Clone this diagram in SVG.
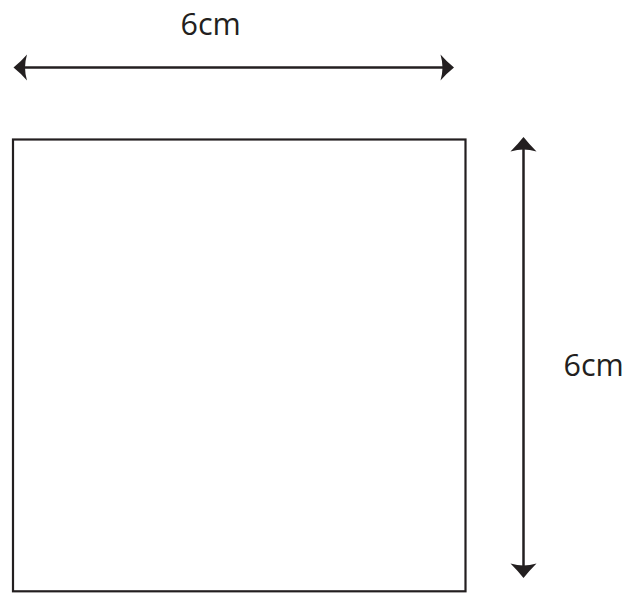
<svg xmlns="http://www.w3.org/2000/svg" width="625" height="593" viewBox="0 0 625 593">
<style>
.line{stroke:#231f20;stroke-width:2.5;fill:none}
.head{fill:#231f20;stroke:none}
.lbl{font-family:"Open Sans","Noto Sans",sans-serif;font-size:30.5px;fill:#231f20}
</style>
<rect width="625" height="593" fill="#ffffff"/>
<g id="square">
<rect x="13" y="139.5" width="452.5" height="451.8" fill="none" stroke="#231f20" stroke-width="2.2"/>
</g>
<g id="connectors">
<g id="width-arrow">
<line class="line" x1="22" y1="67.5" x2="446" y2="67.5"/>
<path class="head" d="M13.5,67.5 Q21,61.5 27,54.5 Q25,61.5 25,67.5 Q25,73.5 27,80.5 Q21,73.5 13.5,67.5 Z"/>
<path class="head" d="M454,67.5 Q446.5,61.5 440.5,54.5 Q442.5,61.5 442.5,67.5 Q442.5,73.5 440.5,80.5 Q446.5,73.5 454,67.5 Z"/>
</g>
<g id="height-arrow">
<line class="line" x1="523.5" y1="146" x2="523.5" y2="569"/>
<path class="head" d="M523.5,137 Q517.5,144.5 510.5,151.5 Q517.5,149.5 523.5,149.5 Q529.5,149.5 536.5,151.5 Q529.5,144.5 523.5,137 Z"/>
<path class="head" d="M523.5,578 Q517.5,570.5 510.5,563.5 Q517.5,565.5 523.5,565.5 Q529.5,565.5 536.5,563.5 Q529.5,570.5 523.5,578 Z"/>
</g>
</g>
<g id="label-width">
<text class="lbl" x="180.5" y="35">6cm</text>
</g>
<g id="label-height">
<text class="lbl" x="563.5" y="375.7">6cm</text>
</g>
</svg>
